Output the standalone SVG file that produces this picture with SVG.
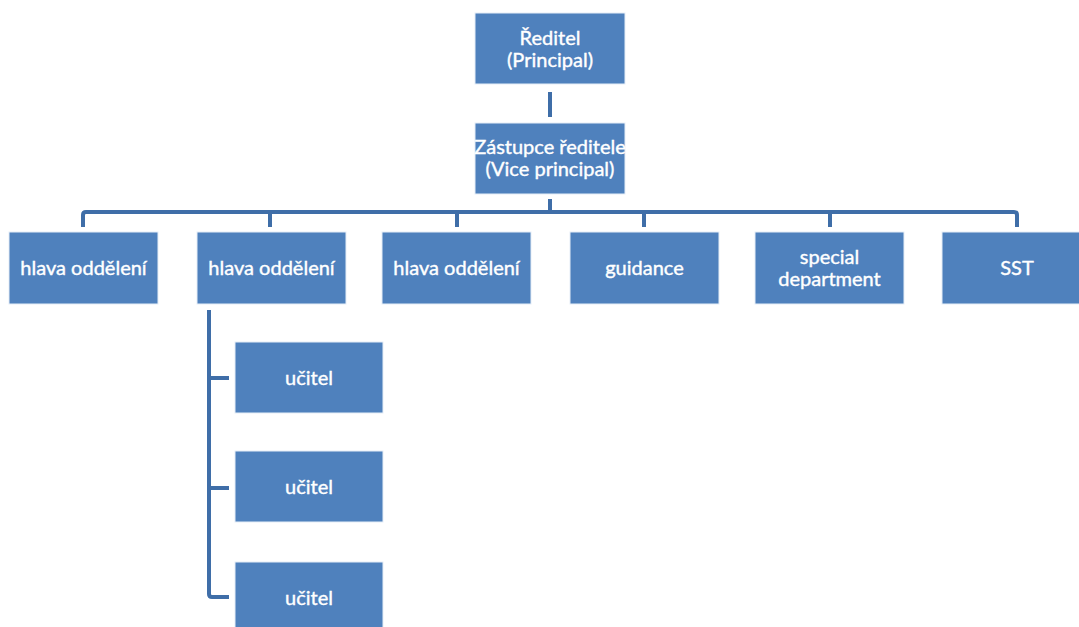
<svg xmlns="http://www.w3.org/2000/svg" width="1079" height="627" viewBox="0 0 1079 627">
  <style>
    .box { fill: #4F81BD; stroke: #E6EEF7; stroke-width: 1; }
    .lbl { fill: #FFFFFF; stroke: #FFFFFF; stroke-width: 0.4; font-family: Lato, "Open Sans", "Liberation Sans", sans-serif; font-size: 20px; text-anchor: middle; }
    .wire { fill: none; stroke: #3F6EA8; stroke-width: 4; stroke-linejoin: round; }
  </style>
  <rect width="1079" height="627" fill="#FFFFFF"/>

  <!-- connectors -->
  <g id="connectors">
    <path class="wire" d="M550 92 V117"/>
    <path class="wire" d="M550 199 V212"/>
    <path class="wire" d="M83 227 V215 Q83 212 86 212 H1014 Q1017 212 1017 215 V227"/>
    <path class="wire" d="M270 212 V227 M457 212 V227 M644 212 V227 M830 212 V227"/>
    <path class="wire" d="M209 310 V594 Q209 597 212 597 H229 M209 378 H229 M209 488 H229"/>
  </g>

  <!-- top level -->
  <g id="principal">
    <rect class="box" x="475" y="13" width="150" height="71"/>
    <text class="lbl" x="550" y="45">Ředitel</text>
    <text class="lbl" x="550" y="67">(Principal)</text>
  </g>
  <g id="vice-principal">
    <rect class="box" x="475" y="123" width="150" height="71"/>
    <text class="lbl" x="550" y="154">Zástupce ředitele</text>
    <text class="lbl" x="550" y="176">(Vice principal)</text>
  </g>

  <!-- department row -->
  <g id="dept-1">
    <rect class="box" x="9" y="232" width="149" height="72"/>
    <text class="lbl" x="83.5" y="275">hlava oddělení</text>
  </g>
  <g id="dept-2">
    <rect class="box" x="197" y="232" width="149" height="72"/>
    <text class="lbl" x="271.5" y="275">hlava oddělení</text>
  </g>
  <g id="dept-3">
    <rect class="box" x="382" y="232" width="149" height="72"/>
    <text class="lbl" x="456.5" y="275">hlava oddělení</text>
  </g>
  <g id="guidance">
    <rect class="box" x="570" y="232" width="149" height="72"/>
    <text class="lbl" x="644.5" y="275">guidance</text>
  </g>
  <g id="special-department">
    <rect class="box" x="755" y="232" width="149" height="72"/>
    <text class="lbl" x="829.5" y="264">special</text>
    <text class="lbl" x="829.5" y="286">department</text>
  </g>
  <g id="sst">
    <rect class="box" x="942" y="232" width="150" height="72"/>
    <text class="lbl" x="1017" y="275">SST</text>
  </g>

  <!-- teachers under the second department -->
  <g id="teacher-1">
    <rect class="box" x="235" y="342" width="148" height="71"/>
    <text class="lbl" x="309" y="385">učitel</text>
  </g>
  <g id="teacher-2">
    <rect class="box" x="235" y="451" width="148" height="71"/>
    <text class="lbl" x="309" y="494">učitel</text>
  </g>
  <g id="teacher-3">
    <rect class="box" x="235" y="562" width="148" height="71"/>
    <text class="lbl" x="309" y="605">učitel</text>
  </g>
</svg>
